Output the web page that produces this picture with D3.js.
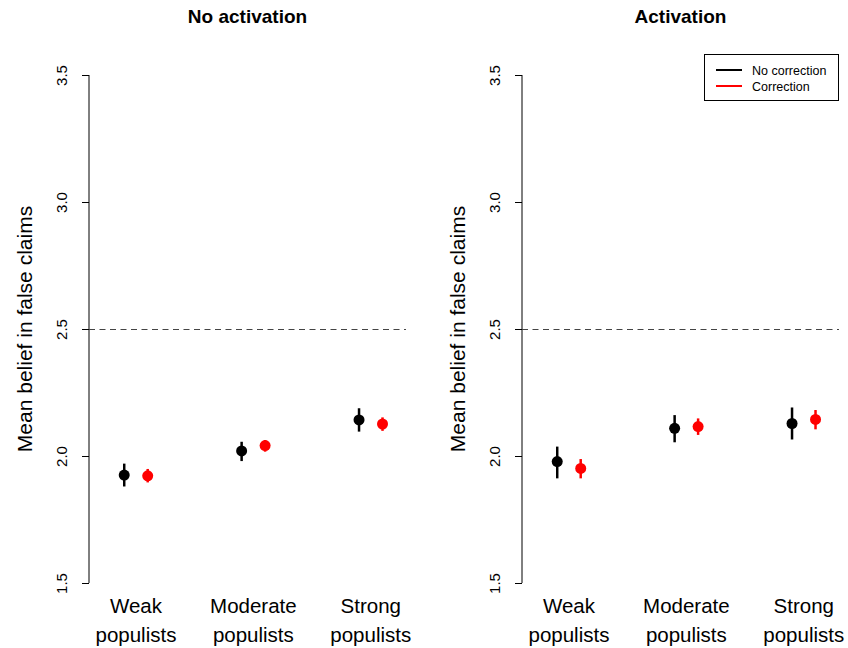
<!DOCTYPE html>
<html>
<head>
<meta charset="utf-8">
<script src="https://cdn.jsdelivr.net/npm/d3@7"></script>
<style>
  body { margin: 0; background: #fff; }
  text { font-family: "Liberation Sans", Arial, sans-serif; }
</style>
</head>
<body>
<script>
// categories and labels
const categories = ["Weak populists", "Moderate populists", "Strong populists"];
const panelTitles = ["No activation", "Activation"];
const seriesNames = ["No correction", "Correction"];
const seriesColors = ["#000000", "#ff0000"];
const yTicks = [1.5, 2.0, 2.5, 3.0, 3.5];
const refLine = 2.5;

// No activation panel
const noActNoCorr = [1.925, 2.020, 2.142];
const noActNoCorrLo = [1.880, 1.980, 2.096];
const noActNoCorrHi = [1.970, 2.056, 2.188];
const noActCorr = [1.922, 2.041, 2.126];
const noActCorrLo = [1.896, 2.017, 2.099];
const noActCorrHi = [1.949, 2.063, 2.152];

// Activation panel
const actNoCorr = [1.978, 2.109, 2.128];
const actNoCorrLo = [1.912, 2.054, 2.065];
const actNoCorrHi = [2.037, 2.161, 2.191];
const actCorr = [1.951, 2.116, 2.144];
const actCorrLo = [1.912, 2.083, 2.105];
const actCorrHi = [1.988, 2.148, 2.181];

const panels = [
  {title: panelTitles[0], series: [
    {mean: noActNoCorr, lo: noActNoCorrLo, hi: noActNoCorrHi},
    {mean: noActCorr, lo: noActCorrLo, hi: noActCorrHi}]},
  {title: panelTitles[1], series: [
    {mean: actNoCorr, lo: actNoCorrLo, hi: actNoCorrHi},
    {mean: actCorr, lo: actCorrLo, hi: actCorrHi}]}
];

const W = 848, H = 648;
const svg = d3.select("body").append("svg")
    .attr("width", W)
    .attr("height", H);

const y = d3.scaleLinear().domain([1.5, 3.5]).range([583, 75]);
const offsets = [-0.1, 0.1];

panels.forEach(function(p, pi) {
  const dx = pi * 433;
  const x = d3.scaleLinear().domain([0.6, 3.3]).range([89 + dx, 406 + dx]);
  const g = svg.append("g");

  // title
  g.append("text")
      .attr("x", (x.range()[0] + x.range()[1]) / 2)
      .attr("y", 23)
      .attr("text-anchor", "middle")
      .attr("font-weight", "bold")
      .attr("font-size", "19px")
      .text(p.title);

  // y axis
  const yAxis = d3.axisLeft(y).tickValues(yTicks).tickSize(7)
      .tickFormat(d3.format(".1f"));
  const ax = g.append("g")
      .attr("transform", "translate(" + (89 + dx) + ",0)")
      .call(yAxis);
  ax.select(".domain").attr("d", "M0," + y(3.5) + "V" + y(1.5));
  ax.selectAll("text")
      .attr("font-size", "15px")
      .attr("fill", "#000")
      .attr("text-anchor", "middle")
      .attr("x", 0).attr("dy", 0)
      .attr("transform", "translate(-22,0) rotate(-90)");

  // y axis title
  g.append("text")
      .attr("transform", "translate(" + (32 + dx) + "," + y(2.5) + ") rotate(-90)")
      .attr("text-anchor", "middle")
      .attr("font-size", "21px")
      .text("Mean belief in false claims");

  // reference line
  g.append("line")
      .attr("x1", x.range()[0]).attr("x2", x.range()[1])
      .attr("y1", y(refLine) + 0.5).attr("y2", y(refLine) + 0.5)
      .attr("stroke", "#444")
      .attr("stroke-dasharray", "6,4.5");

  // category labels
  categories.forEach(function(c, i) {
    const words = c.split(" ");
    const t = g.append("text")
        .attr("text-anchor", "middle")
        .attr("font-size", "20.5px");
    words.forEach(function(w, k) {
      t.append("tspan")
          .attr("x", x(i + 1))
          .attr("y", 613 + k * 29)
          .text(w);
    });
  });

  // error bars and points
  p.series.forEach(function(s, si) {
    g.selectAll(null)
        .data(s.mean).enter()
        .append("line")
        .attr("x1", function(d, i) { return x(i + 1 + offsets[si]); })
        .attr("x2", function(d, i) { return x(i + 1 + offsets[si]); })
        .attr("y1", function(d, i) { return y(s.lo[i]); })
        .attr("y2", function(d, i) { return y(s.hi[i]); })
        .attr("stroke", seriesColors[si])
        .attr("stroke-width", 2.5);
    g.selectAll(null)
        .data(s.mean).enter()
        .append("circle")
        .attr("cx", function(d, i) { return x(i + 1 + offsets[si]); })
        .attr("cy", function(d) { return y(d); })
        .attr("r", 5.5)
        .attr("fill", seriesColors[si]);
  });
});

// legend
const leg = svg.append("g");
leg.append("rect")
    .attr("x", 704.5).attr("y", 54.5)
    .attr("width", 134).attr("height", 46)
    .attr("fill", "#fff").attr("stroke", "#000");
seriesNames.forEach(function(n, i) {
  leg.append("line")
      .attr("x1", 716).attr("x2", 742)
      .attr("y1", 70 + i * 16).attr("y2", 70 + i * 16)
      .attr("stroke", seriesColors[i])
      .attr("stroke-width", 2);
  leg.append("text")
      .attr("x", 752)
      .attr("y", 74.5 + i * 16)
      .attr("font-size", "12.5px")
      .text(n);
});
</script>
</body>
</html>
